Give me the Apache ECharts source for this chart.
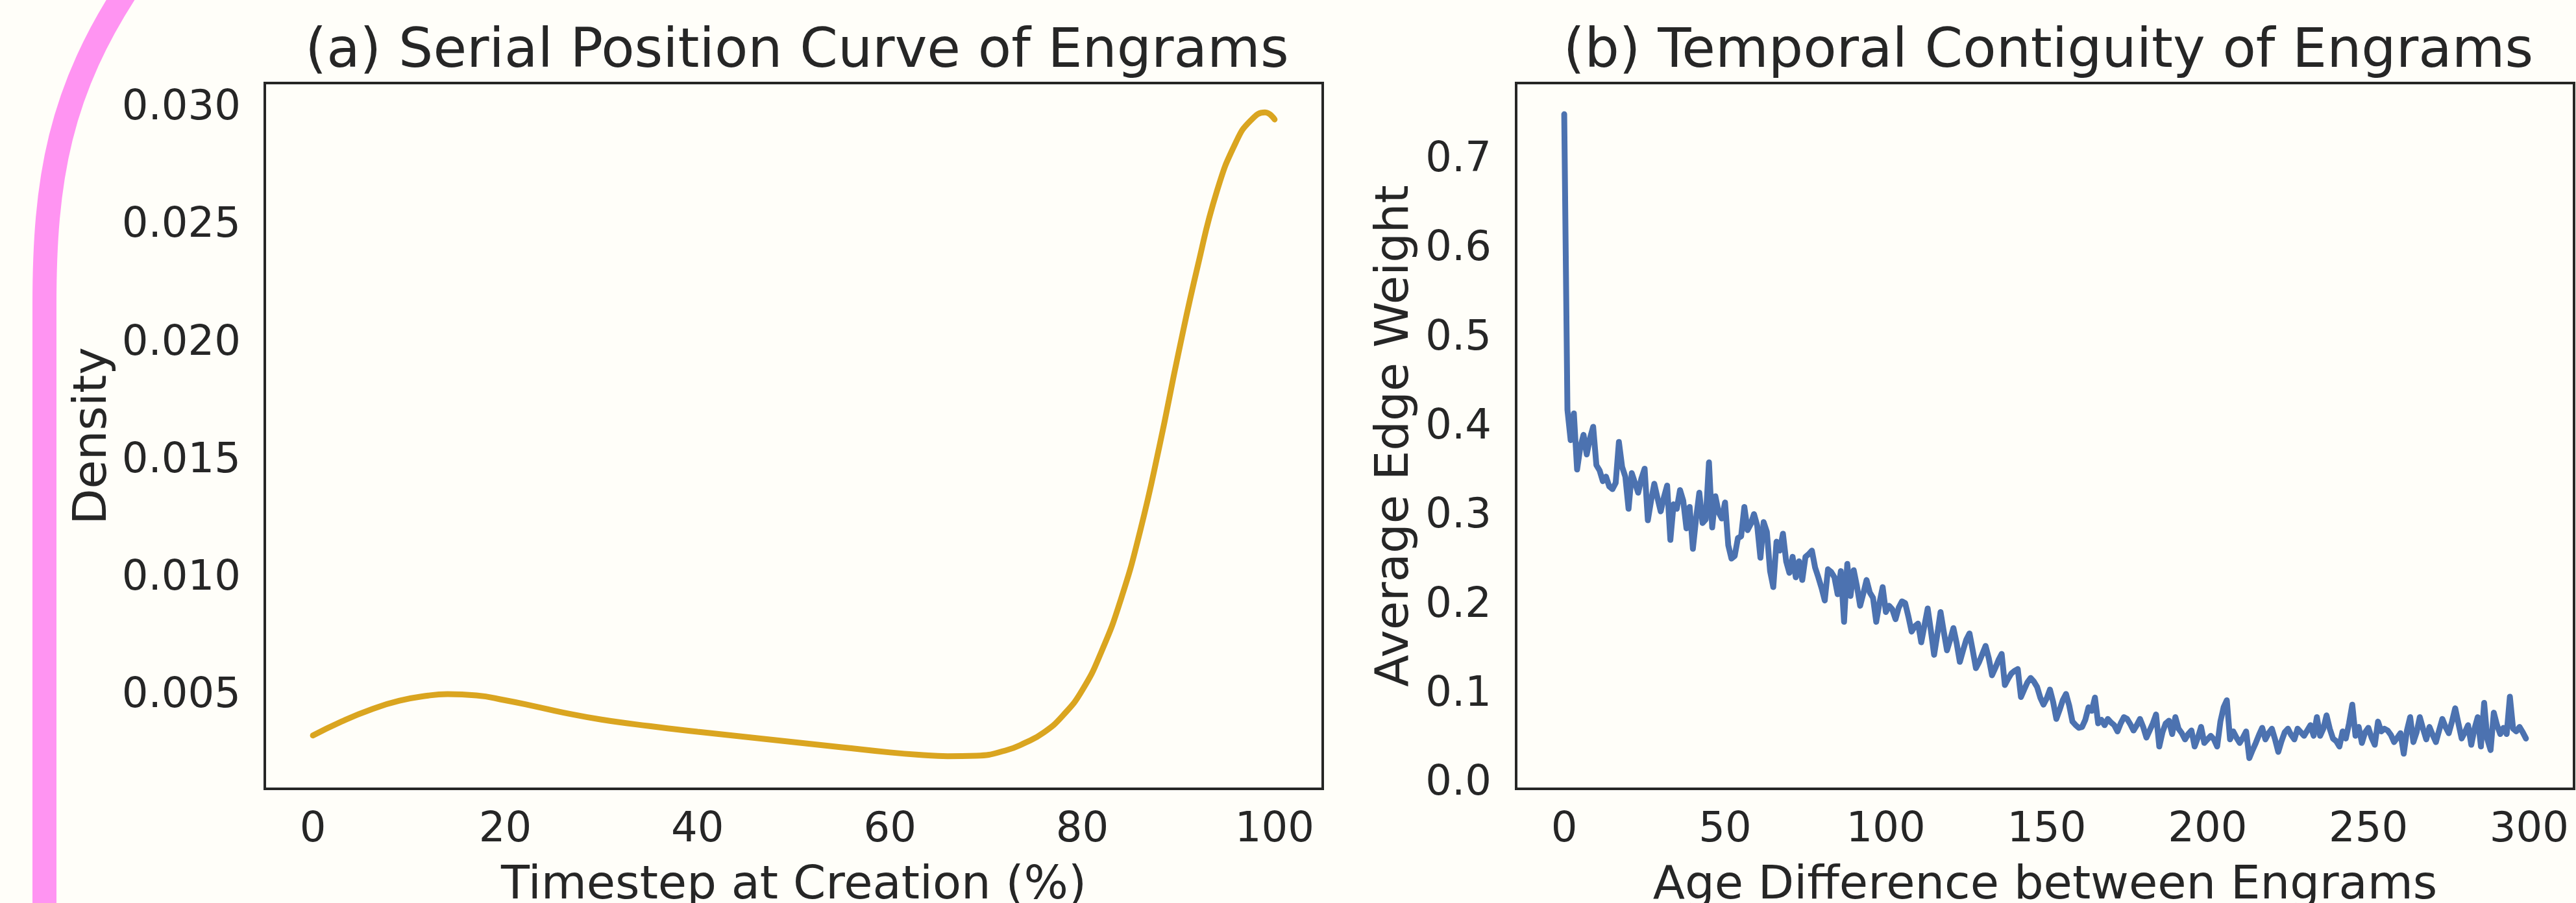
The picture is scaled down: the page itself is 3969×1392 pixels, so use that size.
<!DOCTYPE html>
<html>
<head>
<meta charset="utf-8">
<title>Engrams</title>
<script src="https://cdn.jsdelivr.net/npm/echarts@6/dist/echarts.min.js"></script>
<style>
  html, body { margin: 0; padding: 0; background: #fffef9; }
  #main { width: 3969px; height: 1392px; }
</style>
</head>
<body>
<div id="main"></div>
<script>
// (a) density of creation timestep (%)
var kdeX = [0, 3, 6, 9, 12, 14, 17, 20, 23, 26, 30, 35, 40, 45, 50, 55, 60, 63, 66, 69,
  72, 74, 76, 78, 80, 82, 84, 86, 88, 90, 92, 94, 96, 97.5, 99, 100];
var kdeY = [0.00332, 0.00392, 0.00442, 0.00480, 0.00502, 0.00508, 0.00503, 0.00482, 0.00457, 0.00430,
  0.00400, 0.00372, 0.00348, 0.00326, 0.00304, 0.00282, 0.00260, 0.00250, 0.00244, 0.00246,
  0.00268, 0.00300, 0.00345, 0.00418, 0.00525, 0.00690, 0.00910, 0.01200, 0.01560, 0.01960,
  0.02330, 0.02650, 0.02860, 0.02950, 0.02985, 0.02955];

// (b) average edge weight for age difference 0..299
var edgeWeight = [
  0.752, 0.420, 0.386, 0.416, 0.353, 0.378, 0.392, 0.370, 0.388, 0.401,
  0.358, 0.352, 0.340, 0.345, 0.334, 0.331, 0.338, 0.384, 0.356, 0.345,
  0.309, 0.349, 0.338, 0.327, 0.343, 0.354, 0.296, 0.318, 0.337, 0.321,
  0.306, 0.322, 0.335, 0.274, 0.314, 0.309, 0.330, 0.318, 0.287, 0.311,
  0.264, 0.298, 0.327, 0.293, 0.297, 0.361, 0.288, 0.323, 0.305, 0.298,
  0.316, 0.268, 0.253, 0.256, 0.276, 0.278, 0.311, 0.285, 0.292, 0.303,
  0.290, 0.254, 0.294, 0.283, 0.239, 0.221, 0.272, 0.262, 0.281, 0.250,
  0.237, 0.255, 0.232, 0.250, 0.229, 0.255, 0.258, 0.262, 0.243, 0.232,
  0.220, 0.206, 0.241, 0.238, 0.232, 0.213, 0.239, 0.182, 0.247, 0.211,
  0.240, 0.222, 0.200, 0.214, 0.229, 0.215, 0.209, 0.182, 0.203, 0.221,
  0.193, 0.200, 0.196, 0.185, 0.198, 0.205, 0.203, 0.188, 0.171, 0.177,
  0.180, 0.159, 0.178, 0.197, 0.172, 0.145, 0.168, 0.193, 0.171, 0.150,
  0.162, 0.175, 0.158, 0.137, 0.150, 0.162, 0.169, 0.150, 0.130, 0.137,
  0.146, 0.155, 0.141, 0.122, 0.130, 0.139, 0.146, 0.111, 0.118, 0.124,
  0.127, 0.129, 0.0975, 0.106, 0.114, 0.119, 0.115, 0.109, 0.097, 0.089,
  0.096, 0.106, 0.092, 0.073, 0.083, 0.094, 0.101, 0.088, 0.070, 0.066,
  0.063, 0.064, 0.072, 0.086, 0.082, 0.097, 0.068, 0.072, 0.066, 0.073,
  0.069, 0.066, 0.059, 0.068, 0.075, 0.073, 0.067, 0.060, 0.066, 0.073,
  0.064, 0.052, 0.060, 0.068, 0.078, 0.042, 0.058, 0.068, 0.071, 0.056,
  0.075, 0.062, 0.057, 0.050, 0.056, 0.060, 0.042, 0.052, 0.064, 0.046,
  0.050, 0.054, 0.050, 0.042, 0.070, 0.086, 0.094, 0.050, 0.059, 0.052,
  0.046, 0.052, 0.059, 0.029, 0.038, 0.046, 0.055, 0.063, 0.050, 0.057,
  0.062, 0.050, 0.036, 0.048, 0.058, 0.062, 0.055, 0.050, 0.062, 0.058,
  0.054, 0.060, 0.066, 0.054, 0.075, 0.054, 0.062, 0.077, 0.062, 0.051,
  0.048, 0.042, 0.059, 0.051, 0.068, 0.089, 0.054, 0.064, 0.046, 0.058,
  0.063, 0.052, 0.044, 0.070, 0.059, 0.062, 0.060, 0.055, 0.047, 0.052,
  0.057, 0.034, 0.060, 0.075, 0.047, 0.058, 0.075, 0.062, 0.050, 0.064,
  0.055, 0.047, 0.060, 0.073, 0.064, 0.057, 0.070, 0.085, 0.068, 0.051,
  0.058, 0.066, 0.044, 0.062, 0.075, 0.042, 0.091, 0.050, 0.038, 0.080,
  0.066, 0.056, 0.063, 0.056, 0.098, 0.062, 0.059, 0.064, 0.058, 0.051
];

// tick labels
var ticksA_x = [0, 20, 40, 60, 80, 100];
var ticksA_y = [0.005, 0.010, 0.015, 0.020, 0.025, 0.030];
var ticksB_x = [0, 50, 100, 150, 200, 250, 300];
var ticksB_y = [0.0, 0.1, 0.2, 0.3, 0.4, 0.5, 0.6, 0.7];

var font = 'DejaVu Sans';
var ink = '#262626';
var pink = '#ff94f2';
var tickSize = 64;

var kdeData = kdeX.map(function (x, i) { return [x, kdeY[i]]; });
var edgeData = edgeWeight.map(function (v, i) { return [i, v]; });

function axisBase(extra) {
  var o = {
    type: 'value',
    axisLine: { show: false },
    axisTick: { show: false },
    splitLine: { show: false },
    nameTextStyle: { fontFamily: font, fontSize: 72, color: ink },
    nameLocation: 'middle'
  };
  for (var k in extra) o[k] = extra[k];
  return o;
}

var chart = echarts.init(document.getElementById('main'), null, { renderer: 'canvas' });

var option = {
  backgroundColor: '#fffef9',
  animation: false,
  title: [{
    text: '(a) Serial Position Curve of Engrams',
    left: 1223, top: 34, textAlign: 'center',
    textStyle: { fontFamily: font, fontSize: 84, fontWeight: 'normal', color: ink }
  }, {
    text: '(b) Temporal Contiguity of Engrams',
    left: 3151, top: 34, textAlign: 'center',
    textStyle: { fontFamily: font, fontSize: 84, fontWeight: 'normal', color: ink }
  }],
  grid: [
    { left: 408, top: 128, width: 1630, height: 1088, outerBoundsMode: 'none', containLabel: false,
      show: true, borderColor: ink, borderWidth: 4, backgroundColor: 'transparent' },
    { left: 2336, top: 128, width: 1630, height: 1088, outerBoundsMode: 'none', containLabel: false,
      show: true, borderColor: ink, borderWidth: 4, backgroundColor: 'transparent' }
  ],
  xAxis: [
    axisBase({
      gridIndex: 0, min: -5, max: 105,
      name: 'Timestep at Creation (%)', nameGap: 114,
      axisLabel: { customValues: ticksA_x, margin: 32, fontFamily: font, fontSize: tickSize, color: ink }
    }),
    axisBase({
      gridIndex: 1, min: -14.95, max: 313.95,
      name: 'Age Difference between Engrams', nameGap: 114,
      axisLabel: { customValues: ticksB_x, margin: 32, fontFamily: font, fontSize: tickSize, color: ink }
    })
  ],
  yAxis: [
    axisBase({
      gridIndex: 0, min: 0.00105, max: 0.0311,
      name: 'Density', nameGap: 228,
      axisLabel: {
        customValues: ticksA_y, margin: 37, fontFamily: font, fontSize: tickSize, color: ink,
        formatter: function (v) { return v.toFixed(3); }
      }
    }),
    axisBase({
      gridIndex: 1, min: -0.0055, max: 0.787,
      name: 'Average Edge Weight', nameGap: 150,
      axisLabel: {
        customValues: ticksB_y, margin: 38, fontFamily: font, fontSize: tickSize, color: ink,
        formatter: function (v) { return v.toFixed(1); }
      }
    })
  ],
  series: [{
    type: 'line',
    xAxisIndex: 0, yAxisIndex: 0,
    data: kdeData,
    smooth: 0.5,
    showSymbol: false,
    lineStyle: { color: '#daa520', width: 9, cap: 'round' }
  }, {
    type: 'line',
    xAxisIndex: 1, yAxisIndex: 1,
    data: edgeData,
    showSymbol: false,
    lineStyle: { color: '#4c72b0', width: 9, cap: 'round', join: 'round' }
  }],
  // pink stroke along the left edge of the picture
  graphic: [{
    type: 'line',
    z: -1,
    shape: { x1: 68.5, y1: 1420, x2: 68.5, y2: 468 },
    style: { stroke: pink, lineWidth: 37 }
  }, {
    type: 'bezierCurve',
    z: -1,
    shape: { x1: 68.5, y1: 470, cpx1: 68.5, cpy1: 280, cpx2: 90, cpy2: 140, x2: 205, y2: -30 },
    style: { fill: null, stroke: pink, lineWidth: 37 }
  }]
};

chart.setOption(option);
</script>
</body>
</html>
